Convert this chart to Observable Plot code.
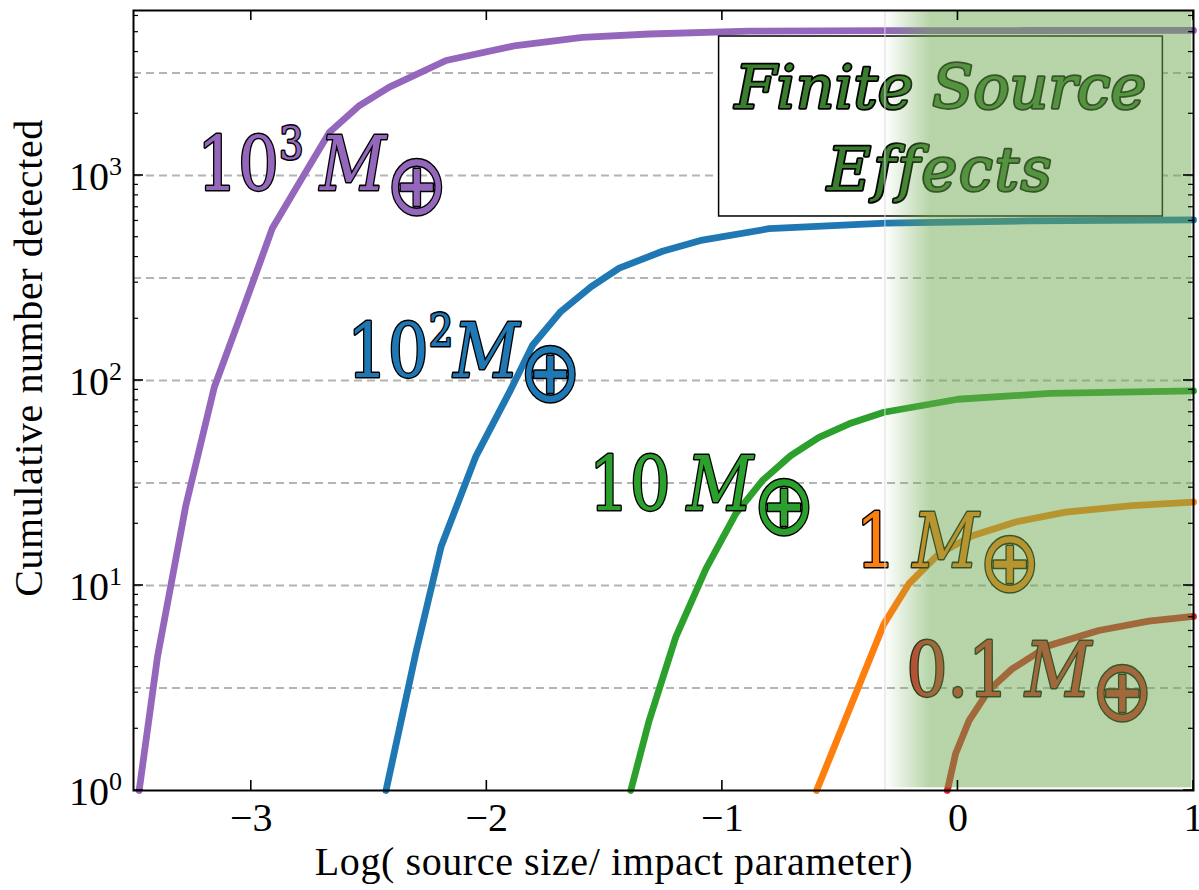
<!DOCTYPE html>
<html>
<head>
<meta charset="utf-8">
<script src="https://cdn.jsdelivr.net/npm/d3@7"></script>
<script src="https://cdn.jsdelivr.net/npm/@observablehq/plot@0.6"></script>
<style>
  body { margin: 0; background: #fff; }
  #chart svg { display: block; }
</style>
</head>
<body>
<div id="chart"></div>
<script>
// Cumulative number of detections vs log(source size / impact parameter), one curve per lens mass.

const massNames  = ["1e3", "1e2", "1e1", "1e0", "1e-1"];
const massColors = ["#9467bd", "#1f77b4", "#2ca02c", "#ff7f0e", "#d62728"];
const labelBase  = ["10", "10", "10", "1", "0.1"];
const labelExp   = ["3", "2", "", "", ""];
const labelSep   = [" ", "", " ", " ", " "];

// curve samples: log ratio (x) and cumulative count (y)
const logRatio1e3 = [-3.476, -3.398, -3.278, -3.157, -3.023, -2.91, -2.78, -2.668, -2.541, -2.414, -2.173, -1.876, -1.594, -1.31, -0.887, -0.3, 0.3, 1.0];
const count1e3    = [1, 4.5, 24.5, 92.7, 243, 555, 990, 1626, 2193, 2698, 3639, 4305, 4720, 4900, 5058, 5090, 5095, 5100];
const logRatio1e2 = [-2.428, -2.30, -2.194, -2.046, -1.904, -1.806, -1.686, -1.558, -1.438, -1.254, -1.085, -0.802, -0.307, 0.3, 1.0];
const count1e2    = [1, 4.76, 15.5, 42.8, 87.7, 148.6, 217, 286, 353, 427, 484, 550, 585, 600, 607];
const logRatio1e1 = [-1.389, -1.311, -1.198, -1.07, -0.943, -0.83, -0.71, -0.59, -0.462, -0.314, 0.0, 0.39, 1.0];
const count1e1    = [1, 2.19, 5.6, 12.05, 22.4, 32.5, 43, 52.8, 61.5, 70, 81, 86.5, 89];
const logRatio1e0 = [-0.60, -0.314, -0.208, -0.08, 0.061, 0.245, 0.457, 0.74, 1.0];
const count1e0    = [1, 6.5, 10.2, 14.3, 17.5, 20.4, 22.8, 24.5, 25.5];
const logRatio1em1 = [-0.045, -0.01, 0.047, 0.131, 0.23, 0.386, 0.598, 0.81, 1.0];
const count1em1    = [1, 1.51, 2.19, 3.08, 3.92, 5.09, 6.03, 6.70, 7.06];

const xTicks = [-3, -2, -1, 0, 1];
const yMajor = [1, 10, 100, 1000];
const gridValues = [3.1623, 10, 31.623, 100, 316.23, 1000, 3162.3];

const finiteLines = ["Finite Source", "Effects"];

// ---- assemble the long table for Plot.line
const curves = [
  [logRatio1e3, count1e3], [logRatio1e2, count1e2], [logRatio1e1, count1e1],
  [logRatio1e0, count1e0], [logRatio1em1, count1em1]
];
const rows = curves.flatMap(([xs, ys], k) => xs.map((x, i) => ({mass: massNames[k], x, y: ys[i]})));

const xDomain = [-3.5, 1];
const yDomain = [1, 6380];
const shade = "rgb(110,170,80)";
const fadeStart = -0.31;

// annotation anchors in data coordinates
const labelX = [-3.228, -2.592, -1.565, -0.433, -0.216];
const labelY = [845, 103.4, 23.2, 12.2, 2.874];
const finiteBox = {x1: -1.014, x2: 0.87, y1: 631, y2: 4764};
const finiteX = -0.072;
const finiteY = [2120, 845];

// text built from runs (sub/superscripts, italics) using relative dy shifts
function addRuns(text, runs) {
  let shift = 0;
  for (const r of runs) {
    const ts = text.append("tspan").text(r.text);
    if (r.size) ts.attr("font-size", r.size);
    if (r.italic) ts.attr("font-style", "italic");
    if (r.family) ts.attr("font-family", r.family);
    const target = -(r.rise || 0);
    if (target !== shift) { ts.attr("dy", target - shift); shift = target; }
  }
}

const F = 74;
const squeeze = 0.87; // horizontal condensing of the mass labels
const massLabels = (index, scales) => {
  const g = d3.create("svg:g")
    .attr("font-family", "DejaVu Serif, DejaVu Sans, serif")
    .attr("font-size", F)
    .attr("text-anchor", "start")
    .attr("stroke", "black").attr("stroke-width", 3)
    .attr("stroke-linejoin", "round").attr("paint-order", "stroke");
  labelBase.forEach((b, k) => {
    const t = g.append("g")
      .attr("transform", `translate(${scales.x(labelX[k])},${scales.y(labelY[k])}) scale(${squeeze},1)`)
      .append("text").attr("x", 0).attr("y", 0)
      .attr("fill", massColors[k]);
    const runs = [{text: b}];
    if (labelExp[k]) runs.push({text: labelExp[k], size: 0.6 * F, rise: 0.42 * F});
    if (labelSep[k]) runs.push({text: labelSep[k], size: 0.8 * F});
    runs.push({text: "M", italic: true, size: F});
    runs.push({text: "\u2295", size: 1.15 * F, rise: -0.32 * F, family: "DejaVu Sans"});
    addRuns(t, runs);
  });
  return g.node();
};

const finiteText = (index, scales) => {
  const g = d3.create("svg:g")
    .attr("font-family", "DejaVu Serif, serif")
    .attr("font-style", "italic")
    .attr("font-size", 60)
    .attr("text-anchor", "middle")
    .attr("fill", "#3a7d2e")
    .attr("stroke", "black").attr("stroke-width", 3.5)
    .attr("stroke-linejoin", "round").attr("paint-order", "stroke");
  finiteLines.forEach((s, k) => {
    g.append("text").attr("x", scales.x(finiteX)).attr("y", scales.y(finiteY[k]))
      .attr("letter-spacing", k === 1 ? 2 : 0).text(s);
  });
  return g.node();
};

const fadeDefs = () => {
  const defs = d3.create("svg:defs");
  const lg = defs.append("linearGradient").attr("id", "fse-fade")
    .attr("x1", 0).attr("x2", 1).attr("y1", 0).attr("y2", 0);
  lg.append("stop").attr("offset", 0).attr("stop-color", shade).attr("stop-opacity", 0);
  lg.append("stop").attr("offset", 0.15).attr("stop-color", shade).attr("stop-opacity", 0.5);
  lg.append("stop").attr("offset", 1).attr("stop-color", shade).attr("stop-opacity", 0.5);
  return defs.node();
};

// inward ticks on all four sides, log minor ticks on the y sides
const frameTicks = (index, scales, values, dims) => {
  const {marginLeft: ml, marginTop: mt, width, height, marginRight: mr, marginBottom: mb} = dims;
  const L = ml, R = width - mr, T = mt, B = height - mb;
  const g = d3.create("svg:g").attr("stroke", "black").attr("fill", "none");
  const yMinor = [];
  for (let e = 0; e < 4; e++) for (let m = 2; m <= 9; m++) {
    const v = m * 10 ** e;
    if (v <= yDomain[1]) yMinor.push(v);
  }
  for (const v of yMajor) {
    const y = scales.y(v);
    g.append("line").attr("x1", L).attr("x2", L + 10).attr("y1", y).attr("y2", y).attr("stroke-width", 1.6);
    g.append("line").attr("x1", R - 10).attr("x2", R).attr("y1", y).attr("y2", y).attr("stroke-width", 1.6);
  }
  for (const v of yMinor) {
    const y = scales.y(v);
    g.append("line").attr("x1", L).attr("x2", L + 5).attr("y1", y).attr("y2", y).attr("stroke-width", 1.2);
    g.append("line").attr("x1", R - 5).attr("x2", R).attr("y1", y).attr("y2", y).attr("stroke-width", 1.2);
  }
  for (const v of xTicks) {
    const x = scales.x(v);
    g.append("line").attr("x1", x).attr("x2", x).attr("y1", B).attr("y2", B - 10).attr("stroke-width", 1.6);
    g.append("line").attr("x1", x).attr("x2", x).attr("y1", T).attr("y2", T + 10).attr("stroke-width", 1.6);
  }
  return g.node();
};

const yTickLabels = (index, scales) => {
  const g = d3.create("svg:g")
    .attr("font-family", "Liberation Serif, serif")
    .attr("font-size", 40).attr("text-anchor", "end").attr("fill", "black");
  yMajor.forEach((v) => {
    const t = g.append("text").attr("x", scales.x(xDomain[0]) - 11).attr("y", scales.y(v) + 15);
    addRuns(t, [{text: "10"}, {text: String(Math.round(Math.log10(v))), size: 26, rise: 15}]);
  });
  return g.node();
};

const titles = () => {
  const g = d3.create("svg:g")
    .attr("font-family", "Liberation Serif, serif")
    .attr("font-size", 40).attr("letter-spacing", 0.6)
    .attr("text-anchor", "middle").attr("fill", "black");
  g.append("text").attr("x", 614).attr("y", 875).text("Log( source size/ impact parameter)");
  g.append("text").attr("transform", "translate(42,358) rotate(-90)").text("Cumulative number detected");
  return g.node();
};

const plot = Plot.plot({
  width: 1199,
  height: 890,
  marginLeft: 133,
  marginRight: 6,
  marginTop: 10,
  marginBottom: 100,
  x: {domain: xDomain},
  y: {type: "log", domain: yDomain, axis: null},
  color: {domain: massNames, range: massColors},
  style: {fontFamily: "Liberation Serif, serif", background: "white", color: "black"},
  marks: [
    fadeDefs,
    Plot.ruleY(gridValues, {stroke: "#b4b4b4", strokeWidth: 2, strokeDasharray: "8,5"}),
    Plot.line(rows, {x: "x", y: "y", z: "mass", stroke: "mass", strokeWidth: 6.8, curve: "linear"}),
    massLabels,
    Plot.rect([finiteBox], {x1: "x1", x2: "x2", y1: "y1", y2: "y2", fill: "white", stroke: "black", strokeWidth: 1.5}),
    finiteText,
    Plot.rect([{x1: fadeStart, x2: 0.993, y1: 1.03, y2: yDomain[1]}], {x1: "x1", x2: "x2", y1: "y1", y2: "y2", fill: "url(#fse-fade)"}),
    Plot.ruleX([fadeStart], {stroke: "#dcdcdc", strokeWidth: 1}),
    Plot.frame({stroke: "black", strokeWidth: 2}),
    frameTicks,
    Plot.axisX({ticks: xTicks, tickSize: 0, tickPadding: 12, fontSize: 40, label: null, tickFormat: d3.format("d")}),
    yTickLabels,
    titles
  ]
});

document.getElementById("chart").appendChild(plot);
</script>
</body>
</html>
